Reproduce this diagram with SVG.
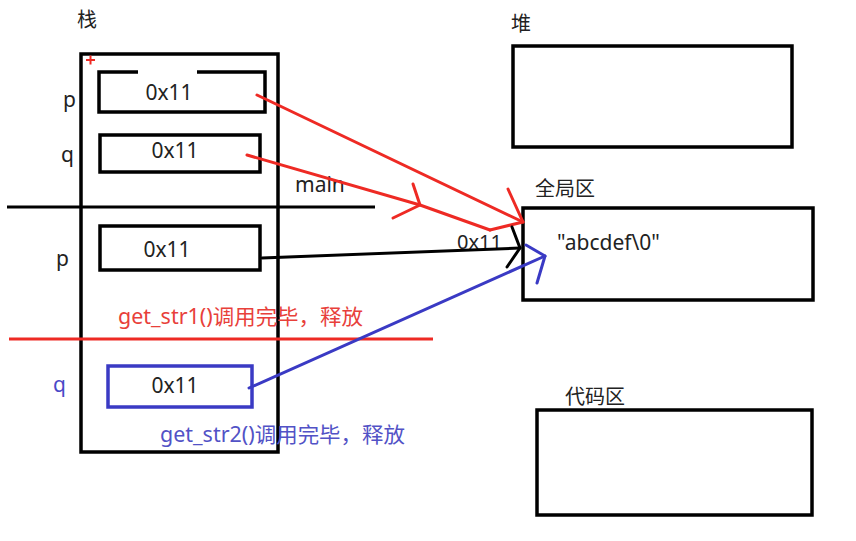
<svg xmlns="http://www.w3.org/2000/svg" width="856" height="541" viewBox="0 0 856 541">
<style>
.box{fill:none;stroke:#000;stroke-width:3.5}
.t{font-family:"Noto Sans","Noto Sans CJK SC",sans-serif;fill:#222}
.v{font-size:21px;text-anchor:middle}
.lbl{font-size:21px}
.cn{font-size:20px}
.red{stroke:#ee2a24;stroke-width:3;fill:none;stroke-linecap:round;stroke-linejoin:round}
.blk{stroke:#000;stroke-width:3;fill:none;stroke-linecap:round;stroke-linejoin:round}
.blu{stroke:#3a3ac4;stroke-width:3;fill:none;stroke-linecap:round;stroke-linejoin:round}
</style>
<rect width="856" height="541" fill="#fff"/>
<g id="stack">
<text class="t cn" x="77" y="27">栈</text>
<rect class="box" x="81" y="54" width="197" height="398"/>
<path d="M86 60h9M90.5 55.5v9" stroke="#ee2a24" stroke-width="2"/>
</g>
<g id="p1">
<text class="t lbl" x="63" y="107">p</text>
<path class="box" d="M138 72H99V112H265V72H197"/>
<text class="t v" x="169" y="100">0x11</text>
</g>
<g id="q1">
<text class="t lbl" x="61" y="162">q</text>
<rect class="box" x="100" y="135" width="160" height="37"/>
<text class="t v" x="175" y="158">0x11</text>
</g>
<g id="main-sep">
<path d="M7 207H375" stroke="#000" stroke-width="3"/>
<text class="t lbl" x="295" y="192">main</text>
</g>
<g id="p2">
<text class="t lbl" x="56" y="266">p</text>
<rect class="box" x="100" y="226" width="160" height="44"/>
<text class="t v" x="167" y="257">0x11</text>
</g>
<g id="str1-sep">
<path d="M9 339H433" stroke="#ee2a24" stroke-width="3"/>
<text class="t" x="118" y="324" font-size="21" textLength="245" lengthAdjust="spacingAndGlyphs" style="fill:#e8403a">get_str1()调用完毕，释放</text>
</g>
<g id="q2">
<text class="t lbl" x="53" y="392" style="fill:#4a4ac8">q</text>
<rect x="108" y="366" width="144" height="41" fill="none" stroke="#3a3ac4" stroke-width="3.5"/>
<text class="t v" x="175" y="393">0x11</text>
<text class="t" x="160" y="442" font-size="21" textLength="245" lengthAdjust="spacingAndGlyphs" style="fill:#5252c6">get_str2()调用完毕，释放</text>
</g>
<g id="heap">
<text class="t cn" x="511" y="31">堆</text>
<rect class="box" x="513" y="46" width="279" height="101"/>
</g>
<g id="global">
<text class="t cn" x="535" y="196">全局区</text>
<rect class="box" x="523" y="208" width="290" height="92"/>
<text class="t" x="557" y="250" font-size="21">"abcdef\0"</text>
</g>
<g id="code">
<text class="t cn" x="565" y="404">代码区</text>
<rect class="box" x="537" y="410" width="275" height="105"/>
</g>
<g id="connectors">
<path class="red" d="M257 95L523 222"/>
<path class="red" d="M508 189L523 222L490 230"/>
<path class="red" d="M247 155L420 205L490 230"/>
<path class="red" d="M413 184L420 205L393 218"/>
<text class="t" x="457" y="249" font-size="20">0x11</text>
<path class="blk" d="M262 258L520 248"/>
<path class="blk" d="M512 227L520 248L507 267"/>
<path class="blu" d="M249 388L545 256"/>
<path class="blu" d="M526 245L545 256L537 283"/>
</g>
</svg>
